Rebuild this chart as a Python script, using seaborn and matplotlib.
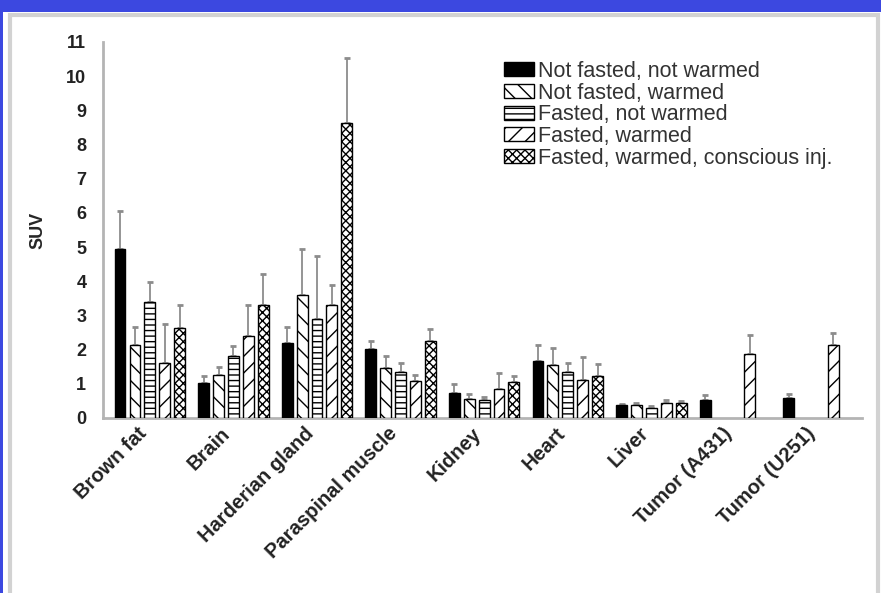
import matplotlib
matplotlib.use("Agg")
import matplotlib.pyplot as plt
import matplotlib.transforms as mtransforms
from matplotlib.patches import Rectangle, Patch
import seaborn as sns
import numpy as np
import pandas as pd

organs = ["Brown fat", "Brain", "Harderian gland", "Paraspinal muscle", "Kidney",
          "Heart", "Liver", "Tumor (A431)", "Tumor (U251)"]
conditions = ["Not fasted, not warmed", "Not fasted, warmed", "Fasted, not warmed",
              "Fasted, warmed", "Fasted, warmed, conscious inj."]

nan = np.nan
nf_nw = [4.95, 1.02, 2.19, 2.02, 0.73, 1.67, 0.37, 0.52, 0.59]
nf_nw_sd = [1.10, 0.20, 0.46, 0.24, 0.26, 0.47, 0.05, 0.14, 0.12]
nf_w = [2.14, 1.27, 3.60, 1.46, 0.55, 1.56, 0.38, nan, nan]
nf_w_sd = [0.52, 0.21, 1.35, 0.34, 0.15, 0.48, 0.05, nan, nan]
f_nw = [3.38, 1.82, 2.89, 1.36, 0.52, 1.36, 0.30, nan, nan]
f_nw_sd = [0.61, 0.30, 1.85, 0.24, 0.08, 0.24, 0.05, nan, nan]
f_w = [1.61, 2.40, 3.31, 1.07, 0.85, 1.10, 0.45, 1.86, 2.13]
f_w_sd = [1.14, 0.91, 0.59, 0.20, 0.46, 0.68, 0.07, 0.56, 0.37]
f_w_ci = [2.63, 3.31, 8.64, 2.24, 1.04, 1.22, 0.45, nan, nan]
f_w_ci_sd = [0.68, 0.89, 1.88, 0.37, 0.18, 0.36, 0.05, nan, nan]

means = [nf_nw, nf_w, f_nw, f_w, f_w_ci]
sds = [nf_nw_sd, nf_w_sd, f_nw_sd, f_w_sd, f_w_ci_sd]

fills = ["black", "white", "white", "white", "white"]
hatches = [None, "\\\\", "---", "//", "xxxx"]

rows = []
for cond, m in zip(conditions, means):
    for organ, v in zip(organs, m):
        rows.append({"organ": organ, "condition": cond, "suv": v})
df = pd.DataFrame(rows).dropna()

sns.set_style("white")
plt.rcParams["font.family"] = ["Liberation Sans", "DejaVu Sans"]
plt.rcParams["hatch.linewidth"] = 1.0

fig = plt.figure(figsize=(8.81, 5.93), dpi=100, facecolor="#3c48e0")
# white panel with light grey frame
fig.patches.append(Rectangle((3/881, 0), 878/881, 581/593, transform=fig.transFigure,
                             facecolor="white", edgecolor="none", zorder=-5))
fig.patches.append(Rectangle((10/881, -0.02), 868/881, (578/593) + 0.02, transform=fig.transFigure,
                             facecolor="none", edgecolor="#d2d2d2", lw=3, zorder=-4))

ax = fig.add_axes([103/881, 175/593, 759/881, 376/593])
ax.set_facecolor("none")

sns.barplot(data=df, x="organ", y="suv", hue="condition", order=organs, hue_order=conditions,
            palette=dict(zip(conditions, fills)), errorbar=None, width=0.89, gap=0.27,
            edgecolor="black", linewidth=1, legend=False, ax=ax, zorder=3)

bar_groups = list(ax.containers)
for i, cont in enumerate(bar_groups):
    for p in cont:
        if hatches[i]:
            p.set_hatch(hatches[i])
        xc = p.get_x() + p.get_width() / 2
        k = int(round(xc))
        h = p.get_height()
        if np.isnan(h):
            continue
        eb = ax.errorbar([xc], [h], yerr=[[0], [sds[i][k]]], fmt="none", ecolor="#8c8c8c",
                         elinewidth=1.3, capsize=2.5, capthick=2, zorder=2)
        for cl in eb[1]:
            cl.set_color("black")

ax.set_xlim(-0.56, 8.52)
ax.set_ylim(0, 11)
ax.set_yticks(range(0, 12))
ax.set_xlabel("")
ax.set_ylabel("SUV", fontsize=13, fontweight="bold")
ax.yaxis.set_label_coords(-0.075, 0.5)

for s in ["top", "right"]:
    ax.spines[s].set_visible(False)
for s in ["left", "bottom"]:
    ax.spines[s].set_color("#b4b4b4")
    ax.spines[s].set_linewidth(2)

ax.tick_params(axis="y", direction="out", length=4, width=1, color="#999999",
               labelsize=13, labelcolor="#222222", pad=8)
ax.tick_params(axis="x", direction="out", length=4, width=1, color="#666666",
               labelsize=14.5, labelcolor="#222222", pad=5)
for t in ax.get_yticklabels():
    t.set_fontweight("bold")
ax.set_xticks(range(len(organs)))
ax.set_xticklabels(organs, rotation=45, ha="right", va="center", rotation_mode="anchor",
                   fontweight="bold")
shift = mtransforms.ScaledTranslation(-6/100, 0, fig.dpi_scale_trans)
for t in ax.get_xticklabels():
    t.set_transform(t.get_transform() + shift)

handles = [Patch(facecolor=f, edgecolor="black", hatch=h, lw=1) for f, h in zip(fills, hatches)]
ax.legend(handles=handles, labels=conditions, loc="upper left",
          bbox_to_anchor=(504/881, 1 - 61/593), bbox_transform=fig.transFigure,
          frameon=False, fontsize=15.5, handlelength=1.4, handleheight=0.62,
          handletextpad=0.2, labelspacing=0.03, borderpad=0, borderaxespad=0,
          labelcolor="#333333")

plt.savefig("out.png", dpi=100, facecolor=fig.get_facecolor())
